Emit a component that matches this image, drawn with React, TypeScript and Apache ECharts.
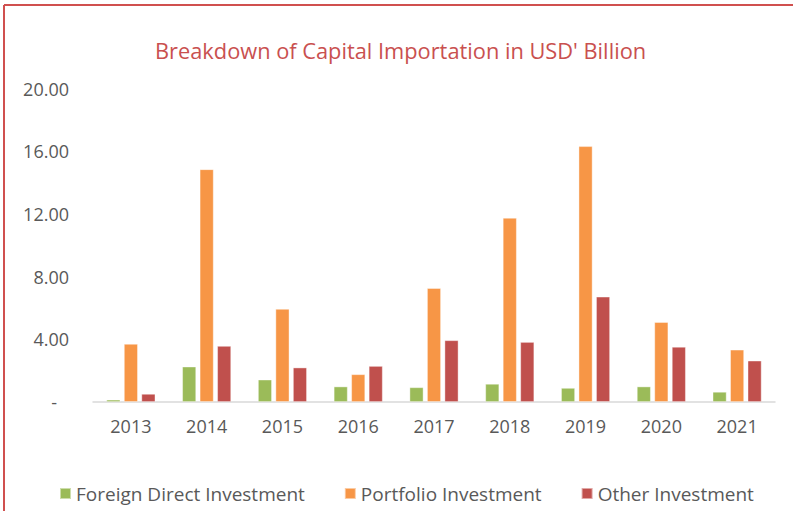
import React, { useEffect, useRef } from "react";
import * as echarts from "echarts";

const categories = ["2013", "2014", "2015", "2016", "2017", "2018", "2019", "2020", "2021"];
const fdiValues = [0.15, 2.26, 1.43, 0.99, 0.94, 1.16, 0.9, 0.99, 0.65];
const portfolioValues = [3.71, 14.85, 5.94, 1.77, 7.27, 11.75, 16.32, 5.1, 3.34];
const otherValues = [0.52, 3.58, 2.2, 2.3, 3.94, 3.83, 6.72, 3.52, 2.64];
const seriesNames = ["Foreign Direct Investment", "Portfolio Investment", "Other Investment"];
const colors = ["#9BBB59", "#F79646", "#C0504D"];
const titleText = "Breakdown of Capital Importation in USD' Billion";

const FONT = "'Open Sans', sans-serif";

export default function App() {
  const ref = useRef<HTMLDivElement>(null);
  useEffect(() => {
    if (!ref.current) return;
    const chart = echarts.init(ref.current, null, { renderer: "svg" });
    const mk = (name: string, data: number[], color: string) => ({
      name,
      type: "bar",
      data,
      barWidth: 14,
      barGap: "25%",
      itemStyle: { color, borderColor: "rgba(255,255,255,0.5)", borderWidth: 0.8 },
    });
    chart.setOption({
      animation: false,
      backgroundColor: "#ffffff",
      title: {
        text: titleText,
        left: 150,
        top: 34,
        textStyle: { color: "#C9504F", fontFamily: FONT, fontSize: 21.8, fontWeight: "normal" },
      },
      legend: {
        top: 479,
        left: 54,
        itemWidth: 11,
        itemHeight: 11,
        itemGap: 39,
        icon: "rect",
        textStyle: { color: "#595959", fontFamily: FONT, fontSize: 19 },
        data: seriesNames,
      },
      grid: { left: 93, right: 18, top: 88.5, bottom: 109, containLabel: false },
      xAxis: {
        type: "category",
        data: categories,
        axisLine: { lineStyle: { color: "#D9D9D9", width: 1.5 } },
        axisTick: { show: false },
        axisLabel: { color: "#595959", fontFamily: FONT, fontSize: 18, margin: 15 },
      },
      yAxis: {
        type: "value",
        min: 0,
        max: 20,
        interval: 4,
        splitLine: { show: false },
        axisLine: { show: false },
        axisTick: { show: false },
        axisLabel: {
          color: "#595959",
          fontFamily: FONT,
          fontSize: 18,
          margin: 24,
          formatter: (v: number) => (v === 0 ? "{d|-}" : v.toFixed(2)),
          rich: { d: { color: "#595959", fontFamily: FONT, fontSize: 18, padding: [0, 12, 0, 0] } },
        },
      },
      graphic: [
        { type: "line", shape: { x1: 4, y1: 5, x2: 800, y2: 5 }, style: { stroke: "#D0504F", lineWidth: 2 } },
        { type: "line", shape: { x1: 4, y1: 5, x2: 4, y2: 520 }, style: { stroke: "#D0504F", lineWidth: 2 } },
      ],
      series: [
        mk(seriesNames[0], fdiValues, colors[0]),
        mk(seriesNames[1], portfolioValues, colors[1]),
        mk(seriesNames[2], otherValues, colors[2]),
      ],
    });
    return () => chart.dispose();
  }, []);
  return (
    <div
      ref={ref}
      style={{ position: "fixed", left: 0, top: 0, width: 793, height: 511, background: "#fff" }}
    />
  );
}
